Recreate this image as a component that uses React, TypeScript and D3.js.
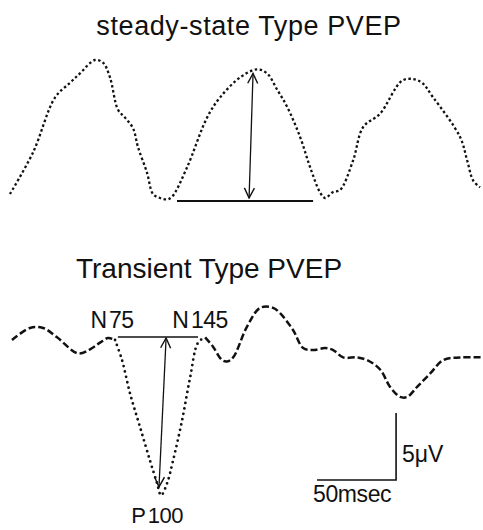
import * as d3 from "d3";
import { useEffect, useRef } from "react";

// time in msec, amplitude in microvolts
const steadyTime = [
  -1.3, 13.3, 27.2, 36.7, 43, 52.5, 57.6, 62, 67, 71.5, 76.6, 79.7, 85.4, 89.2,
  93.7, 98.1, 101.3, 110.8, 123.4, 131.6, 144.3, 155.1, 161.4, 167.7, 174.1,
  182.3, 188.6, 195, 198.1, 203.2, 207.6, 215.8, 222.2, 232.9, 247.5, 258.2,
  266.5, 283.5, 288, 291.8, 296.2,
];
const steadyAmp = [
  0, 3.1, 7.2, 8.3, 9.0, 10.0, 9.8, 8.7, 6.3, 5.7, 4.9, 3.5, 1.6, 0, -0.3, -0.4,
  -0.2, 2.0, 5.7, 7.2, 8.7, 9.3, 9.0, 7.8, 6.5, 4.25, 2.0, 0.1, -0.3, 0.15, 0.3,
  2.5, 5.0, 6.0, 8.5, 8.4, 7.2, 4.25, 2.5, 1.0, 0.5,
];

const transientTime = [
  0, 11.4, 19.6, 28.5, 41.8, 49.4, 55.7, 60.8, 65.2, 69.6, 74.7, 81, 87.3, 91.8,
  94.3, 98.1, 101.9, 107.6, 112.7, 117.7, 122.2, 127.2, 132.9, 136.1, 139.9,
  148.7, 157, 165.2, 169.6, 177.8, 184.2, 190.5, 198.1, 203.2, 209.5, 218.4,
  224.7, 232.9, 239.2, 245.6, 250, 256.3, 264.6, 272.8, 283.5, 298,
];
const transientAmp = [
  0, 0.9, 0.9, 0.2, -1.0, -0.7, -0.2, 0.15, 0, -1.5, -4.0, -6.5, -9.0, -10.7,
  -11.6, -10.7, -9.0, -6.0, -2.8, -0.2, 0.2, -0.5, -1.5, -1.6, -1.3, 1.0, 2.4,
  2.4, 2.0, 0.75, -0.6, -0.75, -0.6, -0.75, -1.3, -1.3, -1.5, -2.2, -3.5, -4.25,
  -4.25, -3.5, -2.5, -1.5, -1.3, -1.3,
];
// N75 .. N145 span drawn dotted
const dottedFrom = 65.2;
const dottedTo = 122.2;

// measurement marks
const steadyBase = { t0: 104.4, t1: 190.5, amp: -0.52 };
const steadyArrow = { tTop: 152.5, aTop: 9.0, tBot: 150, aBot: -0.3 };
const transBase = { t0: 67, t1: 117.7, amp: 0.22 };
const transArrow = { tTop: 97.5, aTop: 0.15, tBot: 93, aBot: -10.97 };
const scaleBar = { t: 243, a: -10.45, ms: 50, uv: 5 };

const peakLabels = [
  { letter: "N", num: "75", t: 63.3, y: 328, size: 23 },
  { letter: "N", num: "145", t: 119, y: 328, size: 23 },
  { letter: "P", num: "100", t: 91.8, y: 523, size: 22 },
];

const W = 483;
const H = 530;
const font = "'Liberation Sans', Arial, sans-serif";

const App = () => {
  const ref = useRef<SVGSVGElement>(null);

  useEffect(() => {
    const svg = d3.select(ref.current);
    svg.selectAll("*").remove();

    const x = d3.scaleLinear().domain([0, 298]).range([12, 483]);
    const yTop = d3.scaleLinear().domain([0, 10]).range([194, 60]);
    const yLow = d3.scaleLinear().domain([0, -11.6]).range([340, 495.4]);

    const defs = svg.append("defs");
    defs
      .append("marker")
      .attr("id", "vhead")
      .attr("viewBox", "0 0 12 12")
      .attr("refX", 11)
      .attr("refY", 6)
      .attr("markerWidth", 12)
      .attr("markerHeight", 12)
      .attr("markerUnits", "userSpaceOnUse")
      .attr("orient", "auto-start-reverse")
      .append("path")
      .attr("d", "M1,1 L11,6 L1,11")
      .attr("fill", "none")
      .attr("stroke", "#111")
      .attr("stroke-width", 1.4);

    const steady = steadyTime.map((t, i) => [t, steadyAmp[i]] as [number, number]);
    const trans = transientTime.map((t, i) => [t, transientAmp[i]] as [number, number]);

    const lineTop = d3
      .line<[number, number]>()
      .x((d) => x(d[0]))
      .y((d) => yTop(d[1]))
      .curve(d3.curveCatmullRom);
    const lineLow = d3
      .line<[number, number]>()
      .x((d) => x(d[0]))
      .y((d) => yLow(d[1]))
      .curve(d3.curveCatmullRom);

    // titles
    svg
      .append("text")
      .attr("x", 249)
      .attr("y", 35)
      .attr("text-anchor", "middle")
      .style("font", `27px ${font}`)
      .style("letter-spacing", "0.6px")
      .attr("fill", "#111")
      .text("steady-state Type PVEP");
    svg
      .append("text")
      .attr("x", 209)
      .attr("y", 278)
      .attr("text-anchor", "middle")
      .style("font", `28px ${font}`)
      .attr("fill", "#111")
      .text("Transient Type PVEP");

    // steady-state trace
    svg
      .append("path")
      .attr("d", lineTop(steady))
      .attr("fill", "none")
      .attr("stroke", "#111")
      .attr("stroke-width", 2.3)
      .attr("stroke-dasharray", "2.5 2.5");

    svg
      .append("line")
      .attr("x1", x(steadyBase.t0))
      .attr("x2", x(steadyBase.t1))
      .attr("y1", yTop(steadyBase.amp))
      .attr("y2", yTop(steadyBase.amp))
      .attr("stroke", "#111")
      .attr("stroke-width", 2);
    svg
      .append("line")
      .attr("x1", x(steadyArrow.tTop))
      .attr("y1", yTop(steadyArrow.aTop))
      .attr("x2", x(steadyArrow.tBot))
      .attr("y2", yTop(steadyArrow.aBot))
      .attr("stroke", "#111")
      .attr("stroke-width", 1.3)
      .attr("marker-start", "url(#vhead)")
      .attr("marker-end", "url(#vhead)");

    // transient trace: dashed outside, dotted across the P100 trough
    const before = trans.filter((d) => d[0] <= dottedFrom);
    const mid = trans.filter((d) => d[0] >= dottedFrom && d[0] <= dottedTo);
    const after = trans.filter((d) => d[0] >= dottedTo);
    [before, after].forEach((seg) => {
      svg
        .append("path")
        .attr("d", lineLow(seg))
        .attr("fill", "none")
        .attr("stroke", "#111")
        .attr("stroke-width", 2.5)
        .attr("stroke-dasharray", "7 3");
    });
    svg
      .append("path")
      .attr("d", lineLow(mid))
      .attr("fill", "none")
      .attr("stroke", "#111")
      .attr("stroke-width", 2.8)
      .attr("stroke-linecap", "round")
      .attr("stroke-dasharray", "0 5.5");

    svg
      .append("line")
      .attr("x1", x(transBase.t0))
      .attr("x2", x(transBase.t1))
      .attr("y1", yLow(transBase.amp))
      .attr("y2", yLow(transBase.amp))
      .attr("stroke", "#111")
      .attr("stroke-width", 1.4);
    svg
      .append("line")
      .attr("x1", x(transArrow.tTop))
      .attr("y1", yLow(transArrow.aTop))
      .attr("x2", x(transArrow.tBot))
      .attr("y2", yLow(transArrow.aBot))
      .attr("stroke", "#111")
      .attr("stroke-width", 1.3)
      .attr("marker-start", "url(#vhead)")
      .attr("marker-end", "url(#vhead)");

    const labels = svg
      .selectAll("text.peak")
      .data(peakLabels)
      .join("text")
      .attr("class", "peak")
      .attr("x", (d) => x(d.t))
      .attr("y", (d) => d.y)
      .attr("text-anchor", "middle")
      .attr("fill", "#111")
      .style("font", (d) => `${d.size}px ${font}`);
    labels.append("tspan").text((d) => d.letter);
    labels
      .append("tspan")
      .attr("dx", 2)
      .style("letter-spacing", "-0.5px")
      .text((d) => d.num);

    // scale bar
    const cx = x(scaleBar.t);
    const cy = yLow(scaleBar.a);
    svg
      .append("path")
      .attr(
        "d",
        `M${x(scaleBar.t - scaleBar.ms)},${cy} L${cx},${cy} L${cx},${yLow(
          scaleBar.a + scaleBar.uv
        )}`
      )
      .attr("fill", "none")
      .attr("stroke", "#111")
      .attr("stroke-width", 1.6);
    svg
      .append("text")
      .attr("x", cx + 6)
      .attr("y", 462)
      .attr("fill", "#111")
      .style("font", `23px ${font}`)
      .text("5\u03bcV");
    svg
      .append("text")
      .attr("x", x(scaleBar.t - scaleBar.ms) - 4)
      .attr("y", 502)
      .attr("fill", "#111")
      .style("font", `23px ${font}`)
      .style("letter-spacing", "-0.4px")
      .text("50msec");
  }, []);

  return (
    <svg
      ref={ref}
      width={W}
      height={H}
      style={{ position: "absolute", left: 0, top: 0, background: "#fff" }}
    />
  );
};

export default App;
